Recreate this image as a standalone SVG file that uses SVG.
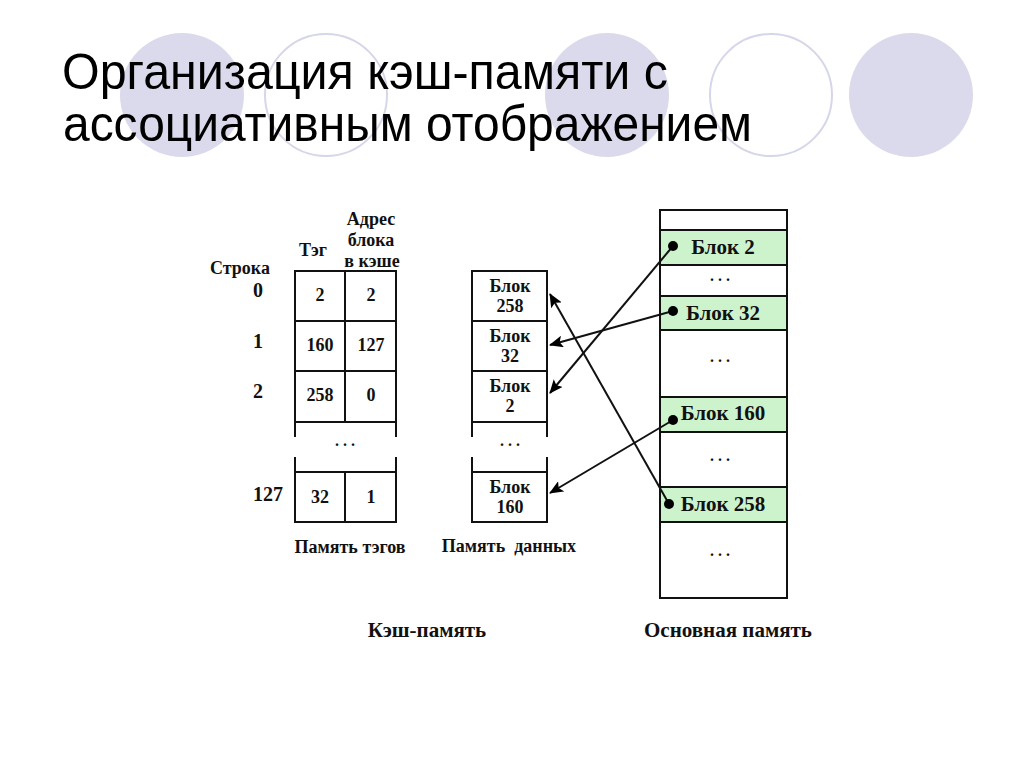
<svg xmlns="http://www.w3.org/2000/svg" width="1024" height="768" viewBox="0 0 1024 768">
<defs>
<style>
.bg-f{fill:#dadaec;stroke:none}
.bg-o{fill:none;stroke:#d6d6ea;stroke-width:2}
.title{font-family:"Liberation Sans",Arial,sans-serif;font-size:50px;fill:#000}
.t{font-family:"Liberation Serif","Times New Roman",serif;font-weight:bold;fill:#111;text-anchor:middle}
.s15{font-size:18px}
.s16{font-size:18px}
.s18{font-size:20px}
.s17{font-size:21px}
.mm{font-size:21px}
.dots{font-size:16px}
.box{fill:#fff;stroke:#111;stroke-width:2}
.ln{fill:none;stroke:#111;stroke-width:2}
.green{fill:#cdf3cd;stroke:#111;stroke-width:2}
.conn{fill:none;stroke:#111;stroke-width:2;marker-end:url(#arr)}
.dot{fill:#000}
</style>
<marker id="arr" viewBox="0 0 14 12" refX="13" refY="6" markerWidth="14" markerHeight="12" markerUnits="userSpaceOnUse" orient="auto">
<path d="M0,0 L14,6 L0,12 L3,6 z" fill="#000"/>
</marker>
</defs>
<rect width="1024" height="768" fill="#fff"/>
<g id="background">
<circle class="bg-f" cx="182" cy="95" r="62"/>
<circle class="bg-o" cx="326" cy="95" r="61"/>
<circle class="bg-f" cx="607" cy="95" r="62"/>
<circle class="bg-o" cx="771" cy="95" r="61"/>
<circle class="bg-f" cx="911" cy="95" r="62"/>
</g>
<g id="title">
<text class="title" x="62" y="89" textLength="606" lengthAdjust="spacingAndGlyphs">Организация кэш-памяти с</text>
<text class="title" x="63" y="141" textLength="689" lengthAdjust="spacingAndGlyphs">ассоциативным отображением</text>
</g>
<g id="tag-memory">
<text class="t s15" x="313" y="256">Тэг</text>
<text class="t s15" x="371" y="225">Адрес</text>
<text class="t s15" x="371" y="246">блока</text>
<text class="t s15" x="372" y="267">в кэше</text>
<text class="t s15" x="240" y="274">Строка</text>
<text class="t s18" x="258" y="297">0</text>
<text class="t s18" x="258" y="348">1</text>
<text class="t s18" x="258" y="398">2</text>
<text class="t s18" x="268" y="501">127</text>
<rect class="box" x="295" y="271" width="101" height="50"/>
<rect class="box" x="295" y="321" width="101" height="50"/>
<rect class="box" x="295" y="371" width="101" height="51"/>
<line class="ln" x1="345" y1="271" x2="345" y2="422"/>
<line class="ln" x1="295" y1="422" x2="295" y2="437"/>
<line class="ln" x1="396" y1="422" x2="396" y2="437"/>
<text class="t dots" x="345" y="446">. . .</text>
<line class="ln" x1="295" y1="457" x2="295" y2="472"/>
<line class="ln" x1="396" y1="457" x2="396" y2="472"/>
<rect class="box" x="295" y="472" width="101" height="50"/>
<line class="ln" x1="345" y1="472" x2="345" y2="522"/>
<text class="t s15" x="320" y="301">2</text>
<text class="t s15" x="371" y="301">2</text>
<text class="t s15" x="320" y="351">160</text>
<text class="t s15" x="371" y="351">127</text>
<text class="t s15" x="320" y="401">258</text>
<text class="t s15" x="371" y="401">0</text>
<text class="t s15" x="320" y="503">32</text>
<text class="t s15" x="371" y="503">1</text>
<text class="t s15" x="350" y="553">Память тэгов</text>
</g>
<g id="data-memory">
<rect class="box" x="472" y="271" width="75" height="50"/>
<rect class="box" x="472" y="321" width="75" height="50"/>
<rect class="box" x="472" y="371" width="75" height="51"/>
<line class="ln" x1="472" y1="422" x2="472" y2="437"/>
<line class="ln" x1="547" y1="422" x2="547" y2="437"/>
<text class="t dots" x="510" y="446">. . .</text>
<line class="ln" x1="472" y1="457" x2="472" y2="472"/>
<line class="ln" x1="547" y1="457" x2="547" y2="472"/>
<rect class="box" x="472" y="472" width="75" height="50"/>
<text class="t s16" x="510" y="292">Блок</text>
<text class="t s16" x="510" y="312">258</text>
<text class="t s16" x="510" y="342">Блок</text>
<text class="t s16" x="510" y="362">32</text>
<text class="t s16" x="510" y="392">Блок</text>
<text class="t s16" x="510" y="412">2</text>
<text class="t s16" x="510" y="493">Блок</text>
<text class="t s16" x="510" y="513">160</text>
<text class="t s15" x="509" y="552" xml:space="preserve">Память  данных</text>
</g>
<g id="main-memory">
<rect class="box" x="660" y="210" width="127" height="388"/>
<rect class="green" x="660" y="230" width="127" height="35"/>
<rect class="green" x="660" y="296" width="127" height="34"/>
<rect class="green" x="660" y="397" width="127" height="35"/>
<rect class="green" x="660" y="487" width="127" height="35"/>
<text class="t mm" x="723" y="254">Блок 2</text>
<text class="t dots" x="720" y="281">. . .</text>
<text class="t mm" x="723" y="320">Блок 32</text>
<text class="t dots" x="720" y="362">. . .</text>
<text class="t mm" x="723" y="420">Блок 160</text>
<text class="t dots" x="720" y="461">. . .</text>
<text class="t mm" x="723" y="511">Блок 258</text>
<text class="t dots" x="720" y="556">. . .</text>
</g>
<g id="captions">
<text class="t s17" x="427" y="637">Кэш-память</text>
<text class="t s17" x="728" y="637">Основная память</text>
</g>
<g id="connectors">
<line class="conn" x1="673" y1="246" x2="550" y2="393"/>
<line class="conn" x1="673" y1="311" x2="550" y2="345"/>
<line class="conn" x1="673" y1="420" x2="550" y2="493"/>
<line class="conn" x1="669" y1="504" x2="550" y2="294"/>
<circle class="dot" cx="673" cy="246" r="5"/>
<circle class="dot" cx="673" cy="311" r="5"/>
<circle class="dot" cx="673" cy="420" r="5"/>
<circle class="dot" cx="669" cy="504" r="5"/>
</g>
</svg>
